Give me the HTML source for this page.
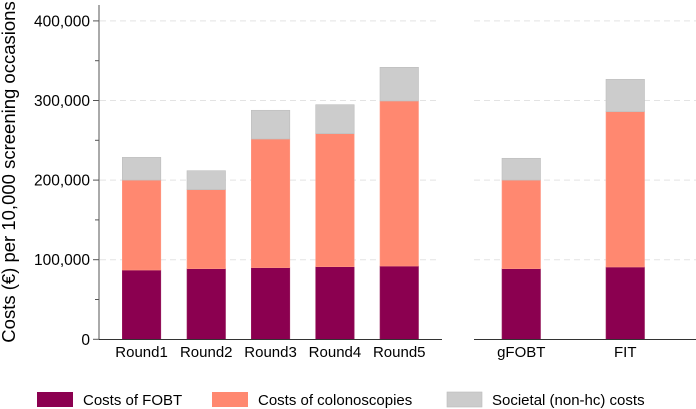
<!DOCTYPE html>
<html><head><meta charset="utf-8"><style>
html,body{margin:0;padding:0;background:#fff;}
svg{display:block;font-family:"Liberation Sans",Arial,sans-serif;}
</style></head><body>
<svg id="chart" width="696" height="409">
<g id="grid"></g>
<g id="bars"></g>
<g id="axes"></g>
<text transform="translate(15,172) rotate(-90)" text-anchor="middle" font-size="18.5" fill="#000">Costs (€) per 10,000 screening occasions</text>
<g>
 <g><rect x="37" y="392" width="36" height="15" fill="#8b0050"/><text x="83" y="405" font-size="15">Costs of FOBT</text></g>
 <g><rect x="212" y="392" width="36" height="15" fill="#ff8870"/><text x="258" y="405" font-size="15">Costs of colonoscopies</text></g>
 <g><rect x="447" y="392" width="35" height="15" fill="#cccccc" stroke="#bbb" stroke-width="0.6"/><text x="492" y="405" font-size="15">Societal (non-hc) costs</text></g>
</g>
</svg>
<script>
const categories = ["Round1","Round2","Round3","Round4","Round5","gFOBT","FIT"];
const fobtCosts = [87000,88700,90000,91200,92000,88700,90800];
const colonCosts = [113000,99300,161600,167100,207400,111300,195200];
const societalCosts = [28600,23800,36100,36400,42300,27400,40600];
const yTicks = [0,100000,200000,300000,400000];
const yTickLabels = ["0","100,000","200,000","300,000","400,000"];

const NS="http://www.w3.org/2000/svg";
const y0=339.3, pxPer=79.6/100000;
function yScale(v){return y0 - v*pxPer;}
const barLeft=[122.3,187,251.3,315.7,380,502,606];
const barW=38.5;
function xScale(i){return barLeft[i];}
function mk(tag,attrs,parent){const e=document.createElementNS(NS,tag);for(const k in attrs)e.setAttribute(k,attrs[k]);parent.appendChild(e);return e;}
const grid=document.getElementById('grid'),bars=document.getElementById('bars'),axes=document.getElementById('axes');
yTicks.forEach((t,i)=>{
  const y=yScale(t);
  if(t>0){
    const l=mk('line',{x1:100,x2:440,y1:y,y2:y,stroke:'#e3e3e3','stroke-dasharray':'6,4'},grid);
    
    
    const l2=mk('line',{x1:474,x2:696,y1:y,y2:y,stroke:'#e3e3e3','stroke-dasharray':'6,4'},grid);
    
    
  }
  const tk=mk('line',{x1:93,x2:99,y1:y,y2:y,stroke:'#555'},axes);
  
  
  const tx=mk('text',{x:90,y:y+5.5,'text-anchor':'end','font-size':15.5},axes);
  tx.textContent=yTickLabels[i];
  
  
  if(i<yTicks.length-1){
    const ym=yScale(t+50000);
    const mt=mk('line',{x1:95,x2:99,y1:ym,y2:ym,stroke:'#555'},axes);
    
    
  }
});
const series=[[fobtCosts,'#8b0050','#9a2060','fobt'],[colonCosts,'#ff8870','#ff9a85','colonoscopies'],[societalCosts,'#cccccc','#bdbdbd','societal']];
categories.forEach((c,i)=>{
  let base=0;
  series.forEach(s=>{
    const v=s[0][i];
    const r=mk('rect',{x:xScale(i),y:yScale(base+v),width:barW,height:v*pxPer,fill:s[1],stroke:s[2],'stroke-width':0.6},bars);
    
    
    base+=v;
  });
  const t=mk('text',{x:xScale(i)+barW/2,y:357,'text-anchor':'middle','font-size':15},axes);
  t.textContent=c;
  
  
});
const ax=mk('line',{x1:99,x2:99,y1:5,y2:339.5,stroke:'#555'},axes);


const b1=mk('line',{x1:99,x2:442,y1:339.5,y2:339.5,stroke:'#333'},axes);


const b2=mk('line',{x1:474,x2:696,y1:339.5,y2:339.5,stroke:'#333'},axes);


</script>
</body></html>
